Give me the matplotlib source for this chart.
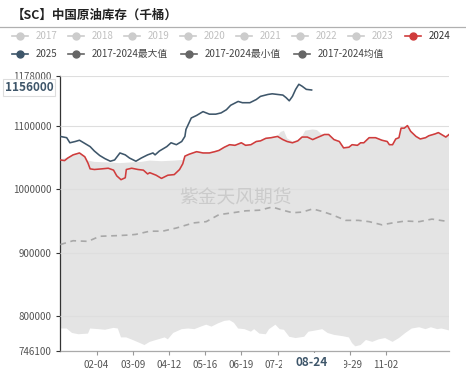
import numpy as np
import matplotlib
matplotlib.use("Agg")
import matplotlib.pyplot as plt
from matplotlib.lines import Line2D
from matplotlib.patches import Rectangle

plt.rcParams['font.family'] = ['Noto Sans CJK SC', 'DejaVu Sans']

# ---- data (day index from 01-01, leap-year calendar) ----
title = "【SC】中国原油库存（千桶）"
legend_row1 = ["2017", "2018", "2019", "2020", "2021", "2022", "2023", "2024"]
legend_row2 = ["2025", "2017-2024最大值", "2017-2024最小值", "2017-2024均值"]
tick_days = [34, 68, 102, 136, 170, 204, 238, 272, 306]
# 08-26 sits under the 08-24 pointer label, so it is left blank
tick_labels = ["02-04", "03-09", "04-12", "05-16", "06-19", "07-23", "", "09-29", "11-02"]
y_ticks = [746100, 800000, 900000, 1000000, 1100000, 1178000]

d2025 = [0, 6, 9, 14, 18, 23, 28, 32, 37, 42, 47, 51, 56, 61, 65, 71, 76, 82, 87, 89,
         93, 100, 104, 109, 114, 117, 118, 123, 128, 134, 140, 146, 151, 156, 160, 167,
         171, 178, 184, 188, 195, 199, 204, 209, 212, 215, 218, 221, 224, 227, 231, 236]
v2025 = [1083000, 1081000, 1073000, 1075000, 1077000, 1072000, 1067000, 1060000, 1053000,
         1048000, 1044000, 1046000, 1057000, 1054000, 1049000, 1044000, 1049000, 1054000,
         1057000, 1054000, 1060000, 1067000, 1073000, 1070000, 1075000, 1083000, 1094000,
         1112000, 1116000, 1122000, 1118000, 1118000, 1120000, 1125000, 1132000, 1138000,
         1136000, 1136000, 1141000, 1146000, 1149000, 1150000, 1149000, 1148000, 1144000,
         1139000, 1146000, 1157000, 1165000, 1162000, 1157000, 1156000]

d2024 = [0, 4, 7, 12, 18, 23, 26, 28, 32, 39, 45, 50, 53, 57, 61, 62, 67, 73, 78, 82,
         84, 90, 95, 101, 107, 112, 115, 117, 121, 128, 134, 140, 145, 149, 154, 159,
         164, 170, 174, 179, 184, 188, 193, 198, 204, 209, 213, 218, 223, 227, 232, 237,
         241, 248, 252, 257, 262, 266, 271, 274, 279, 282, 285, 290, 296, 302, 307, 309,
         312, 315, 318, 320, 323, 326, 329, 334, 338, 343, 346, 352, 355, 358, 362, 365]
v2024 = [1046000, 1045000, 1049000, 1054000, 1057000, 1051000, 1041000, 1032000, 1031000,
         1032000, 1033000, 1030000, 1021000, 1015000, 1018000, 1031000, 1033000, 1031000,
         1030000, 1024000, 1026000, 1022000, 1017000, 1022000, 1023000, 1031000, 1040000,
         1052000, 1055000, 1059000, 1057000, 1057000, 1059000, 1061000, 1066000, 1070000,
         1069000, 1073000, 1069000, 1070000, 1075000, 1076000, 1080000, 1081000, 1083000,
         1078000, 1075000, 1073000, 1076000, 1082000, 1082000, 1078000, 1081000, 1086000,
         1086000, 1078000, 1075000, 1065000, 1066000, 1070000, 1069000, 1073000, 1073000,
         1081000, 1081000, 1077000, 1075000, 1070000, 1070000, 1079000, 1081000, 1096000,
         1096000, 1100000, 1091000, 1083000, 1079000, 1081000, 1084000, 1087000, 1089000,
         1086000, 1082000, 1086000]

d_max = [0, 7, 12, 18, 23, 26, 32, 45, 56, 65, 76, 84, 95, 107, 115, 117, 121, 128, 134,
         140, 145, 149, 154, 159, 164, 170, 174, 179, 184, 188, 193, 198, 204, 207, 210,
         213, 218, 223, 227, 230, 237, 241, 245, 252, 257, 262, 266, 271, 274, 279, 282,
         285, 290, 296, 302, 307, 309, 312, 315, 318, 320, 323, 326, 329, 334, 338, 343,
         346, 352, 355, 358, 362, 365]
v_max = [1047000, 1050000, 1055000, 1058000, 1052000, 1045000, 1043000, 1042000, 1041000,
         1042000, 1043000, 1045000, 1044000, 1045000, 1046000, 1053000, 1056000, 1060000,
         1058000, 1058000, 1060000, 1062000, 1067000, 1071000, 1070000, 1074000, 1070000,
         1071000, 1076000, 1077000, 1081000, 1082000, 1084000, 1090000, 1092000, 1080000,
         1075000, 1077000, 1083000, 1092000, 1094000, 1093000, 1087000, 1087000, 1079000,
         1076000, 1066000, 1067000, 1071000, 1070000, 1074000, 1074000, 1082000, 1082000,
         1078000, 1076000, 1071000, 1071000, 1080000, 1082000, 1097000, 1097000, 1101000,
         1092000, 1084000, 1080000, 1082000, 1085000, 1088000, 1090000, 1087000, 1083000,
         1087000]

d_min = [0, 6, 11, 17, 26, 28, 36, 42, 50, 54, 57, 62, 68, 75, 79, 84, 92, 98, 101, 106,
         114, 120, 126, 132, 137, 142, 148, 154, 159, 163, 167, 173, 179, 182, 187, 193,
         196, 202, 206, 210, 215, 221, 229, 233, 240, 246, 251, 257, 265, 271, 274, 277,
         282, 287, 293, 299, 305, 312, 318, 324, 330, 337, 343, 348, 354, 358, 365]
v_min = [781000, 781000, 774000, 772000, 773000, 781000, 780000, 779000, 782000, 781000,
         767000, 767000, 763000, 758000, 755000, 760000, 764000, 767000, 764000, 774000,
         780000, 781000, 780000, 784000, 787000, 784000, 789000, 793000, 794000, 790000,
         781000, 780000, 776000, 780000, 773000, 772000, 780000, 787000, 780000, 779000,
         768000, 766000, 768000, 776000, 778000, 780000, 774000, 771000, 769000, 767000,
         758000, 753000, 755000, 763000, 760000, 764000, 766000, 760000, 766000, 774000,
         781000, 783000, 780000, 783000, 780000, 781000, 778000]

d_mean = [0, 12, 26, 37, 53, 65, 71, 84, 96, 109, 125, 137, 149, 162, 174, 187, 199, 209,
          218, 227, 237, 246, 255, 268, 280, 290, 302, 312, 324, 337, 349, 365]
v_mean = [913000, 919000, 918000, 926000, 927000, 928000, 929000, 934000, 934000, 939000,
          947000, 949000, 960000, 963000, 966000, 967000, 972000, 967000, 963000, 964000,
          969000, 965000, 960000, 951000, 951000, 949000, 944000, 947000, 950000, 949000,
          953000, 949000]

pointer_day = "08-24"
pointer_value = 1156000

# ---- figure ----
W, H = 466, 373
fig = plt.figure(figsize=(W / 100, H / 100), dpi=100)
ax = fig.add_axes([60.3 / W, 1 - 350.7 / H, (449 - 60.3) / W, (350.7 - 76) / H])

RED = '#d03c3c'
NAVY = '#3e566a'
GREY_FILL = '#e4e4e4'

ax.fill(np.concatenate([d_max, d_min[::-1]]), np.concatenate([v_max, v_min[::-1]]),
        color=GREY_FILL, lw=0, zorder=1)
ax.plot(d_mean, v_mean, color='#a8a8a8', lw=1.2, ls=(0, (3.5, 2.8)), zorder=3)
ax.plot(d2024, v2024, color=RED, lw=1.15, zorder=4)
ax.plot(d2025, v2025, color=NAVY, lw=1.15, zorder=5)

ax.set_xlim(0, 365)
ax.set_ylim(746100, 1178000)
ax.set_yticks(y_ticks)
ax.set_yticklabels([str(v) for v in y_ticks])
ax.set_xticks(tick_days)
ax.set_xticklabels(tick_labels)
ax.tick_params(axis='both', labelsize=7, colors='#555555', length=3, width=0.8)
ax.tick_params(axis='y', colors='#333333', labelcolor='#555555')
ax.tick_params(axis='x', colors='#999999', labelcolor='#555555', pad=4)
ax.grid(axis='y', color='#dedede', lw=0.8, zorder=2)
ax.set_axisbelow(False)
for s in ['top', 'right']:
    ax.spines[s].set_visible(False)
ax.spines['left'].set_color('#333333')
ax.spines['left'].set_linewidth(0.9)
ax.spines['bottom'].set_color('#aaaaaa')
ax.spines['bottom'].set_linewidth(0.9)

# watermark
fig.text(235 / W, 1 - 198 / H, "紫金天风期货", fontsize=13.5, color='#cbcbcb',
         ha='center', va='center', zorder=0)

# title and separator
fig.text(12 / W, 1 - 15 / H, title, fontsize=9, fontweight='bold', color='#222222',
         ha='left', va='center')
fig.add_artist(Line2D([0, 465 / W], [1 - 27 / H, 1 - 27 / H], color='#b0b0b0', lw=0.9,
                      transform=fig.transFigure))


def legend_item(px, py, label, mcolor, tcolor):
    y = 1 - py / H
    fig.add_artist(Line2D([(px - 8) / W, (px + 8) / W], [y, y], color=mcolor, lw=1.2,
                          transform=fig.transFigure))
    fig.add_artist(Line2D([px / W], [y], color=mcolor, marker='o', ms=5, lw=0,
                          transform=fig.transFigure))
    fig.text((px + 16) / W, y, label, fontsize=7, color=tcolor, ha='left', va='center')


row1_x = [20, 76, 132, 188, 244, 300, 356, 413]
for i, lab in enumerate(legend_row1):
    if lab == "2024":
        legend_item(row1_x[i], 36, lab, RED, '#333333')
    else:
        legend_item(row1_x[i], 36, lab, '#cccccc', '#c0c0c0')
row2_x = [20, 76, 189, 302]
row2_colors = [NAVY, '#666666', '#666666', '#666666']
for i, lab in enumerate(legend_row2):
    legend_item(row2_x[i], 54, lab, row2_colors[i], '#444444')

# axis pointer labels
fig.add_artist(Rectangle((282 / W, 1 - 372 / H), 62 / W, 19 / H, transform=fig.transFigure,
                         facecolor='white', edgecolor='none', zorder=10))
fig.text(311.5 / W, 1 - 362.5 / H, pointer_day, fontsize=8.5, fontweight='bold', color=NAVY,
         ha='center', va='center', zorder=11)
fig.add_artist(Rectangle((3 / W, 1 - 96 / H), 52 / W, 17 / H, transform=fig.transFigure,
                         facecolor='white', edgecolor='#dddddd', lw=0.8, zorder=10))
fig.text(29 / W, 1 - 87.5 / H, str(pointer_value), fontsize=8.5, fontweight='bold', color=NAVY,
         ha='center', va='center', zorder=11)

fig.savefig('out.png', dpi=100)
